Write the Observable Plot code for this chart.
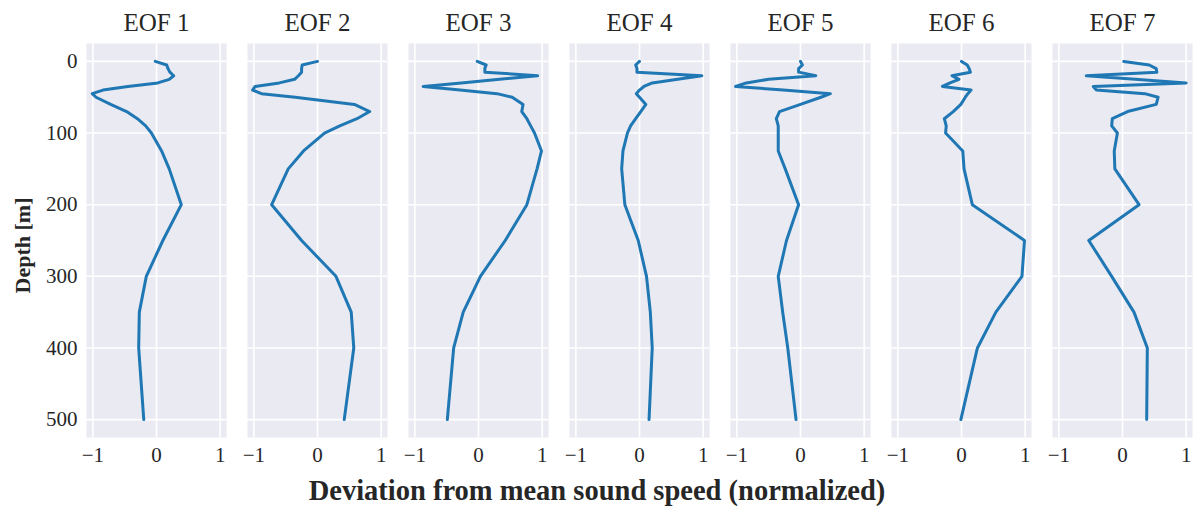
<!DOCTYPE html>
<html><head><meta charset="utf-8">
<script src="https://cdn.jsdelivr.net/npm/d3@7"></script>
<script src="https://cdn.jsdelivr.net/npm/@observablehq/plot@0.6"></script>
<style>
body{margin:0;background:#fff;font-family:"Liberation Serif",serif}
#chart svg{display:block}
#xl{width:1194px;height:35px;text-align:center;font-weight:bold;font-size:28.5px;line-height:38px;color:#262626;font-family:"Liberation Serif",serif}
</style>
</head><body><div id="chart"></div><div id="xl">Deviation from mean sound speed (normalized)</div>
<script>
const depths = [0, 5, 10, 15, 20, 25, 30, 35, 40, 45, 50, 60, 70, 80, 90, 100, 125, 150, 200, 250, 300, 350, 400, 500];
const eof1 = [-0.02, 0.16, 0.18, 0.21, 0.27, 0.2, 0.02, -0.45, -0.84, -1.01, -0.95, -0.72, -0.47, -0.3, -0.17, -0.08, 0.08, 0.2, 0.39, 0.1, -0.16, -0.27, -0.28, -0.2];
const eof2 = [0.0, -0.24, -0.25, -0.25, -0.3, -0.36, -0.6, -0.98, -1.02, -0.88, -0.35, 0.58, 0.82, 0.62, 0.35, 0.11, -0.22, -0.46, -0.72, -0.25, 0.29, 0.53, 0.57, 0.42];
const eof3 = [-0.02, 0.12, 0.1, 0.1, 0.93, 0.33, -0.27, -0.87, -0.29, 0.29, 0.53, 0.7, 0.68, 0.76, 0.82, 0.88, 0.99, 0.92, 0.76, 0.42, 0.03, -0.24, -0.39, -0.49];
const eof4 = [0.0, -0.06, -0.04, -0.04, 0.98, 0.6, 0.2, 0.07, 0.0, -0.05, 0.0, 0.1, 0.02, -0.06, -0.14, -0.19, -0.26, -0.28, -0.23, -0.02, 0.11, 0.17, 0.2, 0.15];
const eof5 = [0.0, 0.03, -0.03, -0.03, 0.24, -0.5, -0.85, -1.02, -0.27, 0.47, 0.32, 0.0, -0.33, -0.38, -0.35, -0.35, -0.35, -0.24, -0.03, -0.22, -0.35, -0.28, -0.2, -0.07];
const eof6 = [0.0, 0.09, 0.12, 0.14, -0.15, -0.04, -0.18, -0.3, 0.15, 0.1, 0.06, -0.01, -0.13, -0.27, -0.24, -0.25, 0.02, 0.04, 0.17, 0.99, 0.95, 0.54, 0.25, -0.01];
const eof7 = [0.02, 0.42, 0.53, 0.54, -0.57, 0.2, 1.0, -0.46, -0.41, 0.35, 0.56, 0.53, 0.08, -0.16, -0.17, -0.08, -0.13, -0.12, 0.26, -0.53, -0.17, 0.18, 0.39, 0.38];
const eofNames = ["EOF 1", "EOF 2", "EOF 3", "EOF 4", "EOF 5", "EOF 6", "EOF 7"];
const xTicks = [-1, 0, 1];
const yTicks = [0, 100, 200, 300, 400, 500];

const series = [eof1, eof2, eof3, eof4, eof5, eof6, eof7];
const rows = [];
series.forEach((vals, i) => vals.forEach((v, j) => rows.push({eof: eofNames[i], depth: depths[j], value: v})));

const ink = "#262626";
const font = "Liberation Serif";
const fmtX = d => d < 0 ? "\u2212" + Math.abs(d) : String(d);

const chart = Plot.plot({
  width: 1194,
  height: 472,
  marginTop: 43,
  marginBottom: 35,
  marginLeft: 86,
  marginRight: 2,
  style: {fontFamily: font, background: "#fff", color: ink},
  fx: {domain: eofNames, paddingInner: 21 / 161, paddingOuter: 0, round: false, label: null},
  x: {domain: [-1.1, 1.1], label: null},
  y: {domain: [-25, 525], reverse: true, label: null},
  marks: [
    Plot.frame({fill: "#eaeaf2", stroke: null}),
    Plot.gridX({ticks: xTicks, stroke: "#fff", strokeOpacity: 1, strokeWidth: 1.6}),
    Plot.gridY({ticks: yTicks, stroke: "#fff", strokeOpacity: 1, strokeWidth: 1.6}),
    Plot.line(rows, {fx: "eof", x: "value", y: "depth", stroke: "#1f77b4", strokeWidth: 3, strokeLinejoin: "round", strokeLinecap: "round"}),
    Plot.axisFx({anchor: "top", tickSize: 0, tickPadding: 13, fontSize: 25, label: null, fill: ink}),
    Plot.axisX({ticks: xTicks, tickFormat: fmtX, tickSize: 0, tickPadding: 10, fontSize: 21, label: null, fill: ink}),
    Plot.axisY({ticks: yTicks, tickSize: 0, tickPadding: 9, fontSize: 21, label: null, fill: ink}),
    Plot.text([{eof: "EOF 1"}], {fx: "eof", text: () => "Depth [m]", frameAnchor: "left", textAnchor: "middle", dx: -64, dy: 5, rotate: -90, fontSize: 22, fontWeight: "bold", fill: ink})
  ]
});
document.getElementById("chart").appendChild(chart);
</script>
</body></html>
